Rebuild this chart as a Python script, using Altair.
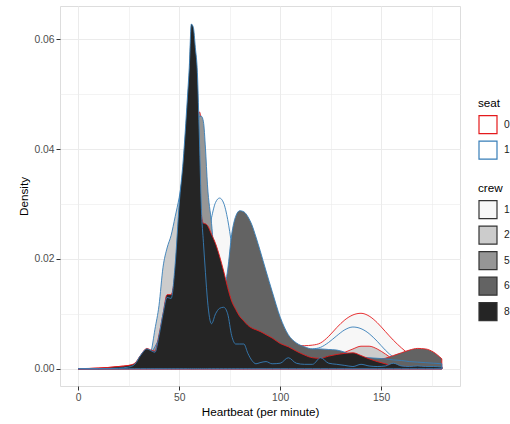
import altair as alt
import pandas as pd

# shared x grid (heartbeat, per minute)
X = [0, 10, 20, 25, 28, 31, 34, 36, 38, 40, 42, 44, 46, 48, 50, 52, 54, 55, 56, 57,
     58, 59, 60, 61, 62, 63, 64, 66, 68, 70, 72, 74, 76, 78, 80, 82, 84, 86, 88, 90,
     93, 96, 100, 104, 108, 112, 116, 120, 124, 128, 132, 136, 140, 144, 148, 152,
     156, 160, 164, 168, 172, 176, 180]

CREWS = ["1", "2", "5", "6", "8"]
SEATS = ["0", "1"]

C1_S0 = [0, 0.0001, 0.0004, 0.0006, 0.0008, 0.0012, 0.0018, 0.0024, 0.0032, 0.0042,
         0.0055, 0.0068, 0.0080, 0.0092, 0.0102, 0.0110, 0.0115, 0.0118, 0.0120, 0.0121,
         0.0122, 0.0122, 0.0122, 0.0121, 0.0120, 0.0119, 0.0118, 0.0116, 0.0114, 0.0112,
         0.0110, 0.0106, 0.0102, 0.0097, 0.0092, 0.0087, 0.0082, 0.0077, 0.0072, 0.0067,
         0.0060, 0.0054, 0.0048, 0.0044, 0.0042, 0.0042, 0.0043, 0.0047, 0.0059, 0.0075,
         0.0089, 0.0098, 0.0101, 0.0096, 0.0084, 0.0068, 0.0052, 0.0038, 0.0026, 0.0016,
         0.0009, 0.0005, 0.0003]
C1_S1 = [0, 0, 0.0002, 0.0004, 0.0006, 0.0010, 0.0016, 0.0022, 0.0030, 0.0040,
         0.0052, 0.0064, 0.0076, 0.0088, 0.0100, 0.0112, 0.0125, 0.0132, 0.0140, 0.0148,
         0.0157, 0.0167, 0.0178, 0.0190, 0.0203, 0.0218, 0.0235, 0.0275, 0.0303, 0.0311,
         0.0302, 0.0272, 0.0225, 0.0172, 0.0128, 0.0097, 0.0077, 0.0063, 0.0054, 0.0048,
         0.0042, 0.0039, 0.0037, 0.0036, 0.0035, 0.0035, 0.0036, 0.0039, 0.0048, 0.0060,
         0.0071, 0.0076, 0.0073, 0.0064, 0.0050, 0.0034, 0.0021, 0.0013, 0.0009, 0.0007,
         0.0005, 0.0004, 0.0003]
C2_S0 = [0, 0.0001, 0.0003, 0.0005, 0.0007, 0.0010, 0.0016, 0.0025, 0.0045, 0.0070,
         0.0110, 0.0150, 0.0185, 0.0220, 0.0255, 0.0290, 0.0315, 0.0325, 0.0330, 0.0330,
         0.0322, 0.0310, 0.0295, 0.0278, 0.0260, 0.0240, 0.0218, 0.0175, 0.0135, 0.0105,
         0.0085, 0.0072, 0.0063, 0.0057, 0.0052, 0.0048, 0.0045, 0.0042, 0.0040, 0.0038,
         0.0035, 0.0032, 0.0029, 0.0026, 0.0024, 0.0022, 0.0021, 0.0021, 0.0022, 0.0025,
         0.0030, 0.0036, 0.0041, 0.0041, 0.0036, 0.0027, 0.0017, 0.0009, 0.0005, 0.0003,
         0.0002, 0.0001, 0.0001]
C2_S1 = [0, 0, 0.0002, 0.0004, 0.0006, 0.0010, 0.0018, 0.0030, 0.0072, 0.0115,
         0.0185, 0.0220, 0.0243, 0.0277, 0.0312, 0.0355, 0.0390, 0.0400, 0.0405, 0.0400,
         0.0385, 0.0365, 0.0340, 0.0310, 0.0280, 0.0250, 0.0215, 0.0160, 0.0120, 0.0095,
         0.0080, 0.0070, 0.0062, 0.0056, 0.0050, 0.0046, 0.0042, 0.0039, 0.0036, 0.0034,
         0.0031, 0.0028, 0.0025, 0.0022, 0.0020, 0.0018, 0.0016, 0.0015, 0.0014, 0.0014,
         0.0015, 0.0016, 0.0017, 0.0017, 0.0016, 0.0014, 0.0011, 0.0008, 0.0006, 0.0005,
         0.0004, 0.0003, 0.0003]
C5_S0 = [0, 0, 0.0001, 0.0002, 0.0005, 0.0010, 0.0018, 0.0025, 0.0035, 0.0050,
         0.0070, 0.0095, 0.0120, 0.0150, 0.0190, 0.0235, 0.0290, 0.0320, 0.0355, 0.0390,
         0.0425, 0.0455, 0.0468, 0.0452, 0.0415, 0.0365, 0.0305, 0.0225, 0.0160, 0.0115,
         0.0090, 0.0075, 0.0066, 0.0060, 0.0055, 0.0051, 0.0048, 0.0045, 0.0042, 0.0040,
         0.0037, 0.0034, 0.0030, 0.0027, 0.0025, 0.0023, 0.0022, 0.0021, 0.0020, 0.0020,
         0.0019, 0.0019, 0.0018, 0.0017, 0.0015, 0.0013, 0.0010, 0.0008, 0.0006, 0.0005,
         0.0004, 0.0003, 0.0002]
C5_S1 = [0, 0, 0.0001, 0.0003, 0.0006, 0.0012, 0.0020, 0.0028, 0.0040, 0.0055,
         0.0075, 0.0100, 0.0125, 0.0160, 0.0200, 0.0245, 0.0295, 0.0322, 0.0350, 0.0380,
         0.0412, 0.0442, 0.0460, 0.0460, 0.0450, 0.0402, 0.0335, 0.0265, 0.0180, 0.0125,
         0.0095, 0.0080, 0.0070, 0.0062, 0.0056, 0.0051, 0.0047, 0.0043, 0.0040, 0.0037,
         0.0034, 0.0031, 0.0028, 0.0025, 0.0023, 0.0021, 0.0020, 0.0020, 0.0020, 0.0019,
         0.0019, 0.0019, 0.0019, 0.0019, 0.0017, 0.0014, 0.0009, 0.0007, 0.0006, 0.0005,
         0.0005, 0.0004, 0.0004]
C6_S0 = [0, 0, 0, 0.0001, 0.0003, 0.0006, 0.0010, 0.0014, 0.0020, 0.0028,
         0.0035, 0.0045, 0.0055, 0.0065, 0.0075, 0.0080, 0.0085, 0.0086, 0.0087, 0.0087,
         0.0087, 0.0087, 0.0087, 0.0087, 0.0087, 0.0087, 0.0087, 0.0088, 0.0092, 0.0100,
         0.0110, 0.0125, 0.0140, 0.0150, 0.0155, 0.0150, 0.0140, 0.0125, 0.0110, 0.0095,
         0.0075, 0.0058, 0.0042, 0.0032, 0.0027, 0.0024, 0.0022, 0.0021, 0.0020, 0.0019,
         0.0018, 0.0017, 0.0016, 0.0016, 0.0017, 0.0019, 0.0024, 0.0029, 0.0034, 0.0037,
         0.0036, 0.0030, 0.0018]
C6_S1 = [0, 0, 0, 0.0002, 0.0005, 0.0010, 0.0015, 0.0020, 0.0025, 0.0030,
         0.0040, 0.0050, 0.0060, 0.0070, 0.0080, 0.0085, 0.0090, 0.0090, 0.0090, 0.0090,
         0.0090, 0.0090, 0.0090, 0.0090, 0.0090, 0.0090, 0.0090, 0.0092, 0.0100, 0.0115,
         0.0140, 0.0180, 0.0245, 0.0278, 0.0288, 0.0286, 0.0277, 0.0262, 0.0240, 0.0216,
         0.0178, 0.0141, 0.0094, 0.0062, 0.0047, 0.0040, 0.0036, 0.0036, 0.0035, 0.0034,
         0.0030, 0.0024, 0.0021, 0.0020, 0.0019, 0.0018, 0.0016, 0.0015, 0.0013, 0.0012,
         0.0011, 0.0010, 0.0009]
C8_S0 = [0, 0.0001, 0.0004, 0.0006, 0.0010, 0.0025, 0.0037, 0.0034, 0.0032, 0.0062,
         0.0100, 0.0135, 0.0135, 0.0175, 0.0260, 0.0330, 0.0400, 0.0430, 0.0450, 0.0450,
         0.0420, 0.0370, 0.0320, 0.0280, 0.0265, 0.0264, 0.0261, 0.0245, 0.0228, 0.0205,
         0.0178, 0.0148, 0.0123, 0.0108, 0.0095, 0.0087, 0.0079, 0.0074, 0.0071, 0.0068,
         0.0062, 0.0056, 0.0046, 0.0040, 0.0032, 0.0025, 0.0020, 0.0019, 0.0023, 0.0026,
         0.0028, 0.0029, 0.0024, 0.0018, 0.0013, 0.0009, 0.0005, 0.0004, 0.0003, 0.0003,
         0.0003, 0.0002, 0.0002]
C8_S1 = [0, 0, 0.0001, 0.0003, 0.0008, 0.0025, 0.0036, 0.0033, 0.0030, 0.0060,
         0.0100, 0.0130, 0.0128, 0.0190, 0.0300, 0.0380, 0.0490, 0.0550, 0.0628, 0.0622,
         0.0585, 0.0540, 0.0420, 0.0290, 0.0230, 0.0175, 0.0125, 0.0082, 0.0100, 0.0110,
         0.0112, 0.0100, 0.0060, 0.0045, 0.0045, 0.0045, 0.0028, 0.0015, 0.0009, 0.0011,
         0.0013, 0.0009, 0.0010, 0.0020, 0.0010, 0.0008, 0.0008, 0.0020, 0.0010, 0.0008,
         0.0006, 0.0004, 0.0008, 0.0005, 0.0004, 0.0005, 0.0010, 0.0005, 0.0004, 0.0005,
         0.0004, 0.0004, 0.0003]

CURVES = {
    ("1", "0"): C1_S0, ("1", "1"): C1_S1,
    ("2", "0"): C2_S0, ("2", "1"): C2_S1,
    ("5", "0"): C5_S0, ("5", "1"): C5_S1,
    ("6", "0"): C6_S0, ("6", "1"): C6_S1,
    ("8", "0"): C8_S0, ("8", "1"): C8_S1,
}

X_TICKS = [0, 25, 50, 75, 100, 125, 150, 175]
Y_TICKS = [0.0, 0.01, 0.02, 0.03, 0.04, 0.05, 0.06]

FILL_COLORS = ["#F7F7F7", "#CCCCCC", "#969696", "#636363", "#252525"]
SEAT_COLORS = ["#E41A1C", "#377EB8"]

rows = []
for (crew, seat), vals in CURVES.items():
    for xv, dv in zip(X, vals):
        rows.append({"x": xv, "density": dv, "crew": crew, "seat": seat})
df = pd.DataFrame(rows)

FONT = "Liberation Sans"

x_axis = alt.Axis(
    values=X_TICKS,
    labelExpr="datum.value % 50 == 0 ? datum.label : ''",
    tickOpacity={"condition": {"test": "datum.value % 50 == 0", "value": 1}, "value": 0},
    gridWidth={"condition": {"test": "datum.value % 50 == 0", "value": 1}, "value": 0.6},
    gridColor="#EBEBEB", domain=False, tickColor="#333333", tickSize=4,
    labelColor="#4D4D4D", labelFontSize=10.3, labelPadding=2, labelOverlap=False,
    title="Heartbeat (per minute)", titleFontSize=11.7, titleFontWeight="normal",
    titleColor="#000000", titlePadding=4, labelFont=FONT, titleFont=FONT,
)
y_axis = alt.Axis(
    values=Y_TICKS,
    labelExpr="(round(datum.value*100) % 2 == 0) ? format(datum.value, '.2f') : ''",
    tickOpacity={"condition": {"test": "round(datum.value*100) % 2 == 0", "value": 1}, "value": 0},
    gridWidth={"condition": {"test": "round(datum.value*100) % 2 == 0", "value": 1}, "value": 0.6},
    gridColor="#EBEBEB", domain=False, tickColor="#333333", tickSize=4,
    labelColor="#4D4D4D", labelFontSize=10.3, labelPadding=2, labelOverlap=False,
    title="Density", titleFontSize=11.7, titleFontWeight="normal",
    titleColor="#000000", titlePadding=4, labelFont=FONT, titleFont=FONT,
)

base = alt.Chart(df).mark_area(
    interpolate="monotone", strokeWidth=0.9, fillOpacity=1, strokeJoin="round"
).encode(
    x=alt.X("x:Q", scale=alt.Scale(domain=[-9, 189], nice=False, zero=False), axis=x_axis),
    y=alt.Y("density:Q", scale=alt.Scale(domain=[-0.00315, 0.0661], nice=False, zero=False),
            axis=y_axis),
    y2=alt.datum(0),
    fill=alt.Fill("crew:N", scale=alt.Scale(domain=CREWS, range=FILL_COLORS),
                  legend=alt.Legend(orient="none", legendX=418, legendY=177, title="crew",
                                    symbolType="square", symbolSize=324, symbolStrokeWidth=1.2,
                                    symbolStrokeColor="#333333", rowPadding=1.5,
                                    labelOffset=6, titlePadding=5, padding=0,
                                    titleFontSize=11.7, titleFontWeight="normal",
                                    titleColor="#000000", labelFontSize=10.3,
                                    labelColor="#1A1A1A", titleFont=FONT, labelFont=FONT)),
    stroke=alt.Stroke("seat:N", scale=alt.Scale(domain=SEATS, range=SEAT_COLORS),
                      legend=alt.Legend(orient="none", legendX=418, legendY=92, title="seat",
                                        symbolType="square", symbolSize=324, symbolStrokeWidth=1.2,
                                        symbolFillColor="#FFFFFF", rowPadding=1.5,
                                        labelOffset=6, titlePadding=5, padding=0,
                                        titleFontSize=11.7, titleFontWeight="normal",
                                        titleColor="#000000", labelFontSize=10.3,
                                        labelColor="#1A1A1A", titleFont=FONT, labelFont=FONT)),
)

layers = []
for crew in CREWS:
    for seat in SEATS:
        layers.append(base.transform_filter(
            f"datum.crew == '{crew}' && datum.seat == '{seat}'"))

chart = alt.layer(*layers).properties(
    width=400, height=380,
    padding={"left": 60, "top": 6, "right": 50, "bottom": 38},
    autosize=alt.AutoSizeParams(type="none"),
    background="#FFFFFF",
).configure_view(
    stroke="#333333", strokeWidth=1
).configure(
    font=FONT
)

chart.save("out.html", embed_options={"renderer": "svg", "actions": False})
